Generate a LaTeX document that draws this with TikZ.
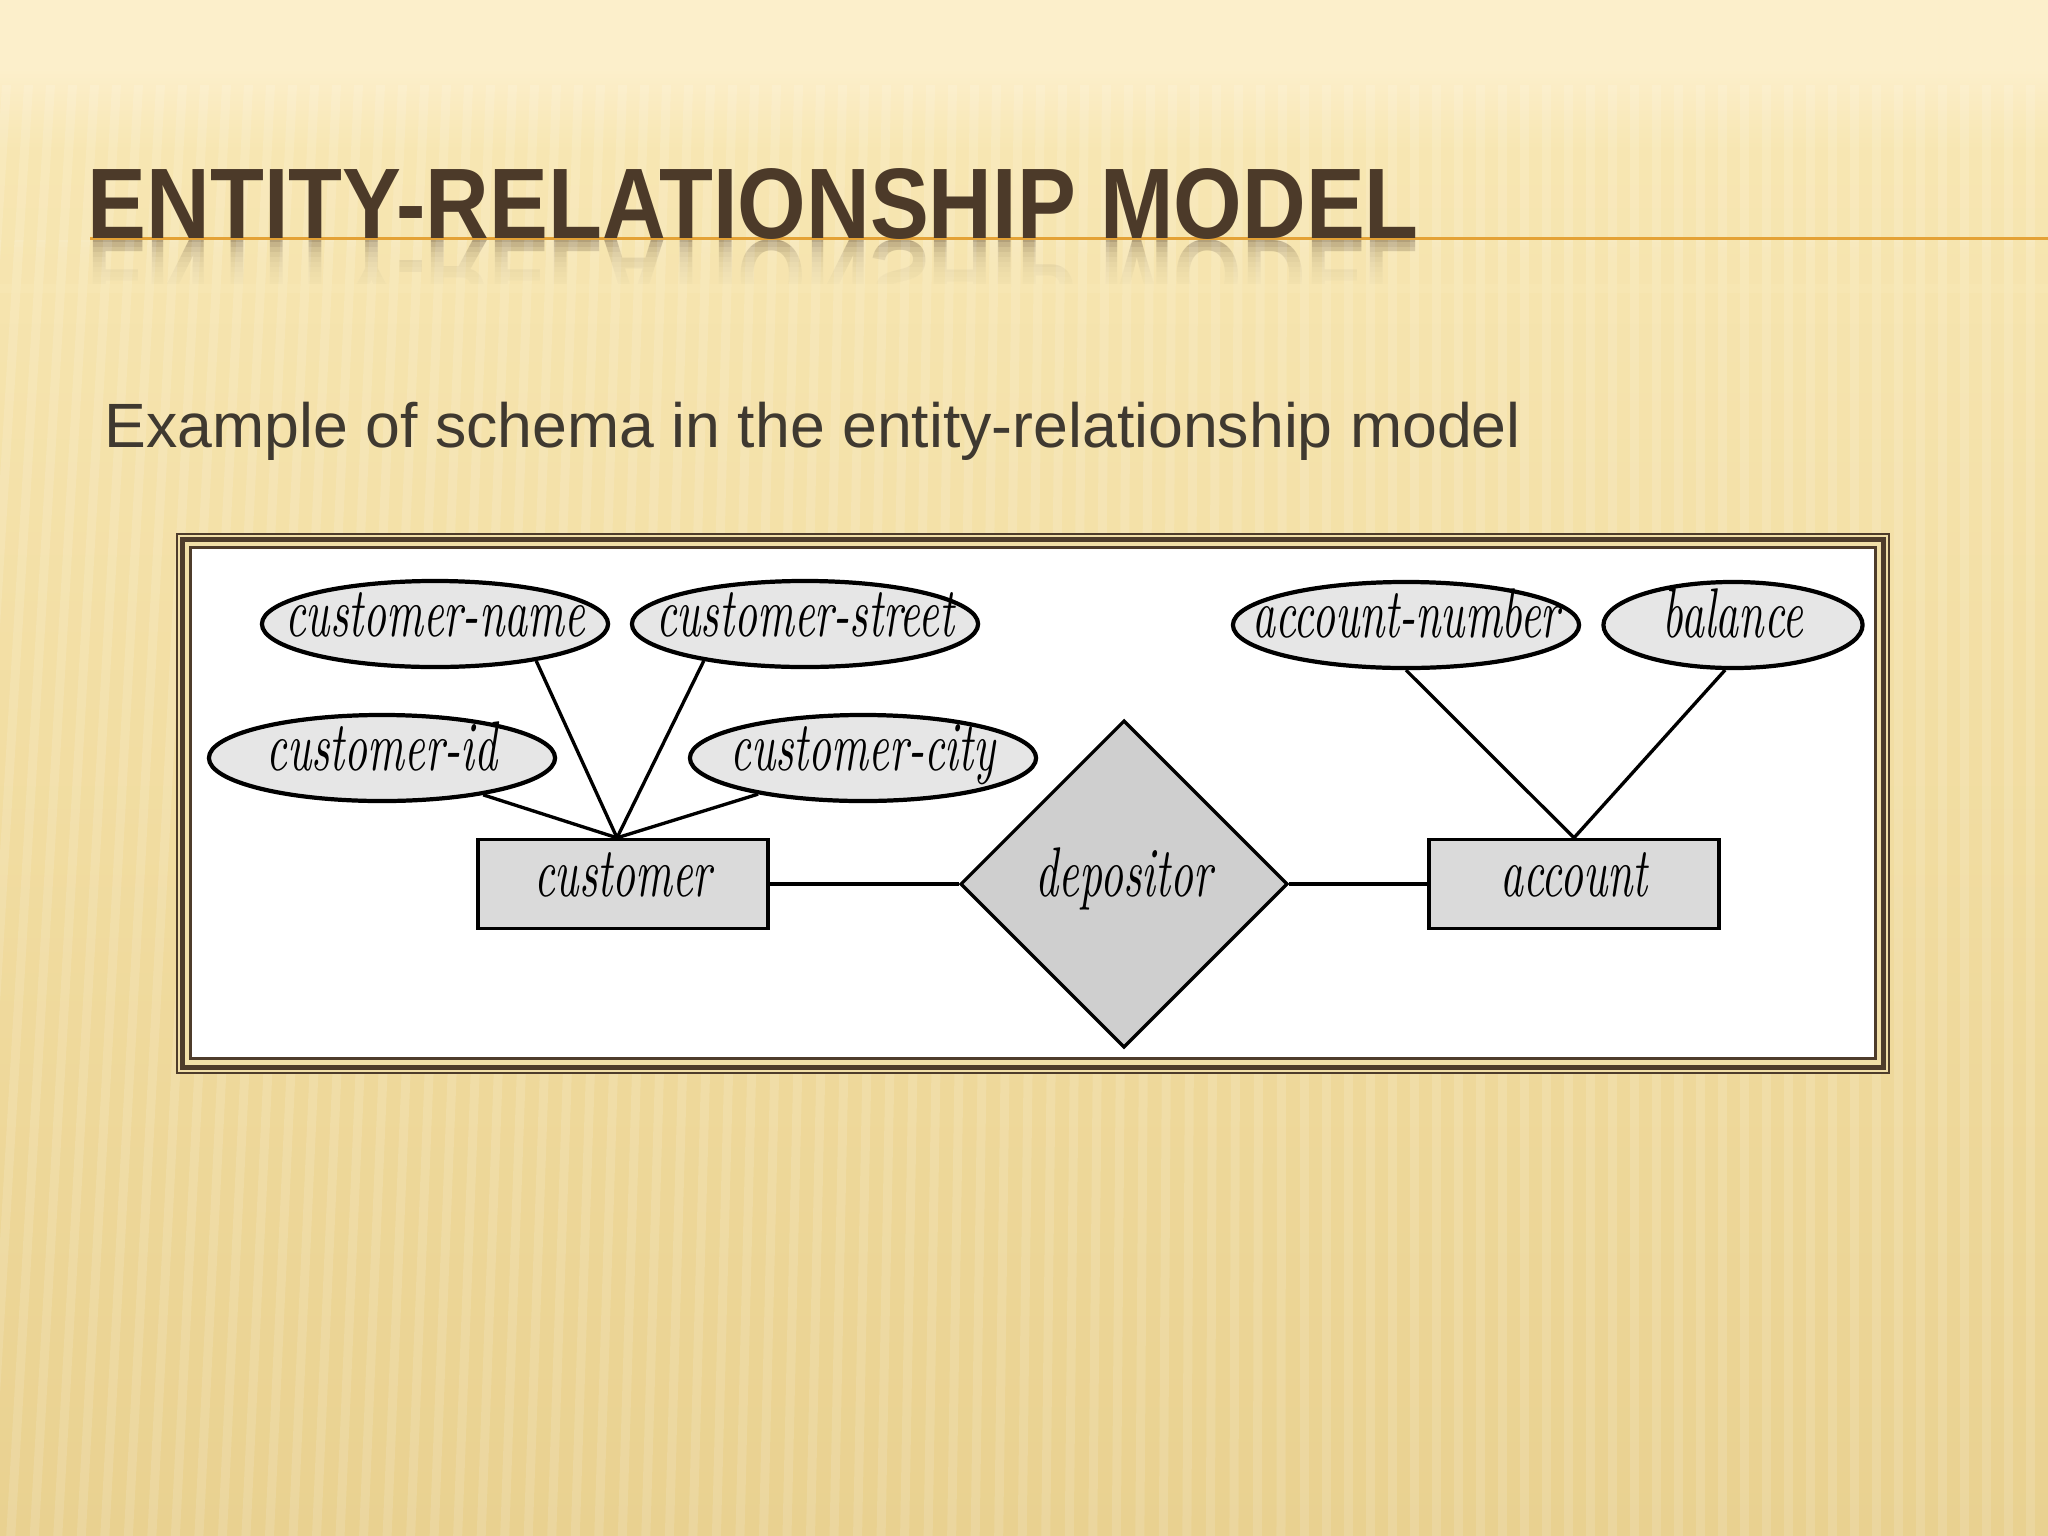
\documentclass[tikz,border=0pt]{standalone}
\usepackage{fontspec}
\usetikzlibrary{shapes.geometric}
\newfontfamily\titlefont[FakeStretch=0.88]{Liberation Sans}
\newfontfamily\subfont{Liberation Sans}
\newfontfamily\erfont[FakeStretch=0.64]{lmroman10-italic.otf}
\newcommand\zw[1]{\makebox[0pt]{#1}}
\definecolor{bgtop}{HTML}{FCEFCB}
\definecolor{bgA}{HTML}{F7E6B2}
\definecolor{bgB}{HTML}{F1DCA0}
\definecolor{bgC}{HTML}{E9D190}
\definecolor{titlebrown}{HTML}{4C3A29}
\definecolor{subcol}{HTML}{3F3930}
\definecolor{framebrown}{HTML}{4E3C2B}
\definecolor{framecream}{HTML}{F1DFA8}
\definecolor{accent}{HTML}{E4A236}
\definecolor{attrfill}{HTML}{E6E6E6}
\definecolor{entfill}{HTML}{DADADA}
\definecolor{relfill}{HTML}{CFCFCF}
\begin{document}
\begin{tikzpicture}[x=0.01cm,y=-0.01cm,
  titlestyle/.style={inner sep=0pt, text=titlebrown, font={\titlefont\bfseries\fontsize{28.5pt}{32pt}\selectfont}},
  substyle/.style={inner sep=0pt, text=subcol, font={\subfont\fontsize{17.8pt}{21pt}\selectfont}},
  ertext/.style={font={\erfont\fontsize{20pt}{24pt}\selectfont}, text height=10pt, text depth=3pt},
  attr/.style={ellipse, draw=black, line width=1.2pt, fill=attrfill, minimum width=3.46cm, minimum height=0.86cm, inner sep=0pt, ertext},
  entity/.style={rectangle, draw=black, line width=0.95pt, fill=entfill, minimum width=2.9cm, minimum height=0.89cm, inner sep=0pt, ertext},
  rel/.style={diamond, aspect=1, draw=black, line width=0.95pt, fill=relfill, minimum width=3.27cm, minimum height=3.27cm, inner sep=0pt, ertext},
  conn/.style={draw=black, line width=0.95pt},
  stripe/.style={white, opacity=0.13}]
\useasboundingbox (0,0) rectangle (2048,1536);
% background
\fill[bgA] (0,0) rectangle (2048,1536);
\shade[top color=bgA, bottom color=bgC, middle color=bgB] (0,150) rectangle (2048,1536);
\fill[bgtop] (0,0) rectangle (2048,70);
\shade[top color=bgtop, bottom color=bgA] (0,69) rectangle (2048,151);
\foreach \i in {-240,-218,...,2070}{
  \pgfmathsetmacro\sl{max(0,90*(1-\i/1300))}
  \fill[stripe] (\i,85) -- (\i+9,85) -- (\i+9-\sl,1536) -- (\i-\sl,1536) -- cycle;
}
% title
\draw[accent, line width=0.03cm] (90,238) -- (2048,238);
\node[titlestyle, anchor=base west] (title) at (87,238) {ENTITY-RELATIONSHIP MODEL};
\begin{scope}
  \clip (0,240) rectangle (2048,292);
  \node[titlestyle, anchor=base west, yscale=-1, opacity=0.4] (titlerefl) at (87,240) {ENTITY-RELATIONSHIP MODEL};
  \foreach \k in {0,...,8}{
    \fill[bgA, opacity=0.28] (0,242+\k*5) rectangle (2048,295);
  }
  \fill[bgA] (0,284) rectangle (2048,295);
  \foreach \i in {-240,-218,...,2070}{
    \pgfmathsetmacro\sl{max(0,90*(1-\i/1300))}
    \fill[white, opacity=0.1] (\i,85) -- (\i+9,85) -- (\i+9-\sl,1536) -- (\i-\sl,1536) -- cycle;
  }
\end{scope}
% subtitle
\node[substyle, anchor=base west] (sub) at (104,447) {Example of schema in the entity-relationship model};
% frame
\fill[framecream] (176,533) rectangle (1890,1074);
\draw[framebrown, line width=0.022cm] (177,534) rectangle (1889,1073);
\draw[framebrown, line width=0.05cm] (182.5,539) rectangle (1883,1067);
\fill[white] (190,547) rectangle (1875,1058);
\draw[framebrown, line width=0.03cm] (190,547) rectangle (1875,1058);
% diagram nodes
\node[attr] (cname) at (435,624) {\zw{customer-name}};
\node[attr] (cstreet) at (805,624) {\zw{customer-street}};
\node[attr] (cid) at (382,758) {\zw{customer-id}};
\node[attr] (ccity) at (863,758) {\zw{customer-city}};
\node[attr] (anum) at (1406,625) {\zw{account-number}};
\node[attr, minimum width=2.59cm] (bal) at (1733,625) {\zw{balance}};
\node[entity] (cust) at (623,884) {customer};
\node[entity] (acct) at (1574,884) {account};
\node[rel] (dep) at (1124,884) {depositor};
\coordinate (cj) at ([xshift=-0.06cm]cust.north);
% connectors
\draw[conn] (cname.-20) -- (cj);
\draw[conn] (cstreet.-160) -- (cj);
\draw[conn] (cid.-20) -- (cj);
\draw[conn] (ccity.-161) -- (cj);
\draw[conn] (anum.south) -- (acct.north);
\draw[conn] (bal.-100) -- (acct.north);
\draw[conn] (cust.east) -- (dep.west);
\draw[conn] (dep.east) -- (acct.west);
\end{tikzpicture}
\end{document}
